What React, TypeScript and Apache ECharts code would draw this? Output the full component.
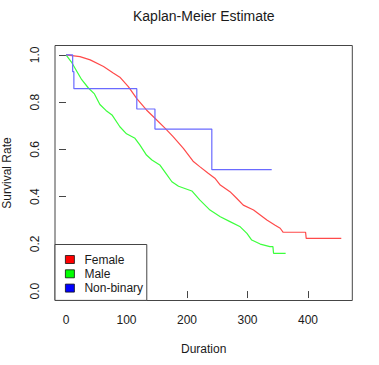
import React, { useEffect, useRef } from 'react';
import * as echarts from 'echarts';

const FONT = '"Liberation Sans", Arial, Helvetica, sans-serif';
const titleText = 'Kaplan-Meier Estimate';
const xName = 'Duration';
const yName = 'Survival Rate';

const groups = ['Female', 'Male', 'Non-binary'];
const legendColors = ['#ff0000', '#00ff00', '#0000ff'];
const lineColors = ['#ff4a4a', '#3cff3c', '#6a6aff'];

const xTicks = [0, 100, 200, 300, 400];
const yTicks = [0, 0.2, 0.4, 0.6, 0.8, 1.0];

const femaleTime = [0, 23, 40, 62, 78, 89, 103, 117, 133, 147, 164, 177, 194, 210, 221, 235, 246, 255, 271, 282, 293, 310, 332, 345, 354, 359, 396, 397, 455];
const femaleSurv = [1.0, 0.993, 0.979, 0.951, 0.924, 0.906, 0.866, 0.815, 0.767, 0.732, 0.689, 0.654, 0.604, 0.55, 0.527, 0.499, 0.478, 0.449, 0.421, 0.393, 0.364, 0.343, 0.301, 0.28, 0.266, 0.249, 0.249, 0.223, 0.223];

const maleTime = [0, 9, 18, 26, 37, 47, 56, 66, 76, 89, 100, 114, 122, 133, 142, 155, 166, 175, 186, 208, 221, 238, 255, 271, 288, 299, 307, 321, 337, 342, 343, 363];
const maleSurv = [1.0, 0.97, 0.93, 0.895, 0.86, 0.835, 0.79, 0.765, 0.746, 0.696, 0.666, 0.647, 0.619, 0.576, 0.555, 0.534, 0.495, 0.463, 0.444, 0.424, 0.386, 0.343, 0.315, 0.294, 0.272, 0.244, 0.216, 0.199, 0.188, 0.188, 0.16, 0.16];

const nbTime = [0, 11, 13, 117, 147, 241, 340];
const nbSurv = [1.0, 0.929, 0.857, 0.771, 0.686, 0.514, 0.514];

const zip = (t: number[], s: number[]) => t.map((v, i) => [v, s[i]]);

export default function App() {
  const ref = useRef<HTMLDivElement>(null);
  useEffect(() => {
    if (!ref.current) return;
    const chart = echarts.init(ref.current, undefined, { renderer: 'svg' });
    const axisLabelBase = { fontSize: 12, color: '#1a1a1a', fontFamily: FONT };
    const frame = '#454545';
    chart.setOption({
      animation: false,
      backgroundColor: '#ffffff',
      title: {
        text: titleText,
        left: 133,
        top: 9,
        padding: 0,
        textStyle: { fontSize: 14, fontWeight: 'normal', color: '#1a1a1a', fontFamily: FONT },
      },
      grid: {
        left: 55,
        right: 26.7,
        top: 45.5,
        bottom: 64.5,
        containLabel: false,
        outerBoundsMode: 'none',
        show: true,
        borderColor: frame,
        borderWidth: 1,
        backgroundColor: 'transparent',
      },
      legend: {
        orient: 'vertical',
        left: 55,
        top: 244.5,
        padding: [8, 3.7, 5.3, 10],
        itemGap: 0.3,
        itemWidth: 9,
        itemHeight: 8,
        icon: 'rect',
        borderColor: frame,
        borderWidth: 1,
        backgroundColor: '#ffffff',
        itemStyle: { borderColor: '#111', borderWidth: 0.8 },
        textStyle: { fontSize: 12, color: '#1a1a1a', fontFamily: FONT, lineHeight: 14, padding: [0, 0, 0, 5] },
        data: groups,
      },
      xAxis: {
        type: 'value',
        min: -18.2,
        max: 473.2,
        name: xName,
        nameLocation: 'middle',
        nameGap: 42,
        nameTextStyle: { fontSize: 12, color: '#1a1a1a', fontFamily: FONT },
        axisLine: { show: false },
        splitLine: { show: false },
        axisTick: { show: true, customValues: xTicks, length: 7, lineStyle: { color: frame } },
        axisLabel: { ...axisLabelBase, customValues: xTicks, margin: 13 },
      },
      yAxis: {
        type: 'value',
        min: -0.04,
        max: 1.04,
        name: yName,
        nameLocation: 'middle',
        nameGap: 42,
        nameRotate: 90,
        nameTextStyle: { fontSize: 12, color: '#1a1a1a', fontFamily: FONT },
        axisLine: { show: false },
        splitLine: { show: false },
        axisTick: { show: true, customValues: yTicks, length: 7, lineStyle: { color: frame } },
        axisLabel: {
          ...axisLabelBase,
          customValues: yTicks,
          rotate: 90,
          margin: 14,
          formatter: (v: number) => v.toFixed(1),
        },
      },
      series: [
        {
          name: groups[0],
          type: 'line',
          data: zip(femaleTime, femaleSurv),
          showSymbol: false,
          symbol: 'none',
          itemStyle: { color: legendColors[0] },
          lineStyle: { color: lineColors[0], width: 1.2 },
        },
        {
          name: groups[1],
          type: 'line',
          data: zip(maleTime, maleSurv),
          showSymbol: false,
          symbol: 'none',
          itemStyle: { color: legendColors[1] },
          lineStyle: { color: lineColors[1], width: 1.2 },
        },
        {
          name: groups[2],
          type: 'line',
          step: 'end',
          data: zip(nbTime, nbSurv),
          showSymbol: false,
          symbol: 'none',
          itemStyle: { color: legendColors[2] },
          lineStyle: { color: lineColors[2], width: 1.2 },
        },
      ],
    });
    return () => chart.dispose();
  }, []);
  return <div ref={ref} style={{ position: 'fixed', left: 0, top: 0, width: 379, height: 365 }} />;
}
